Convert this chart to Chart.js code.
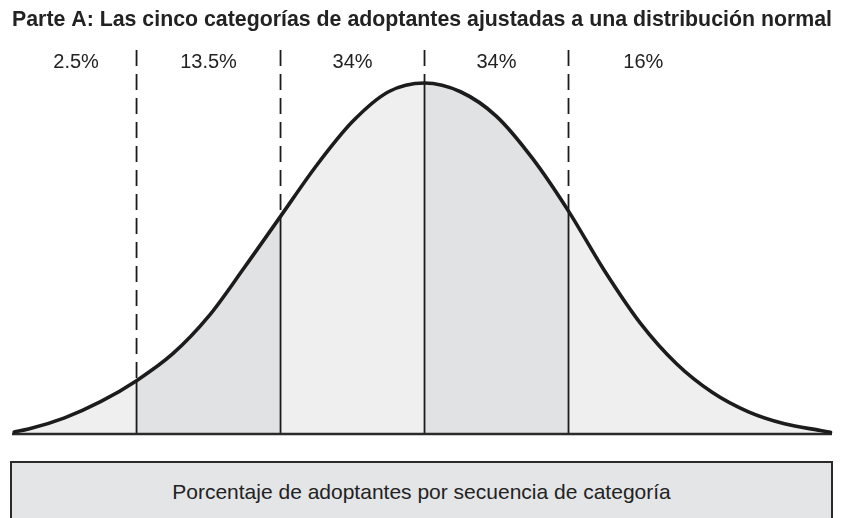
<!DOCTYPE html>
<html>
<head>
<meta charset="utf-8">
<script src="https://cdn.jsdelivr.net/npm/chart.js@4"></script>
<style>
body{margin:0;background:#fff}
#wrap{position:relative;width:841px;height:518px;overflow:hidden}
#box{position:absolute;left:10px;top:461px;width:819px;height:80px;background:#e4e5e7;border:2px solid #2a2a2a;
font:21px "Liberation Sans",Arial,sans-serif;color:#222;text-align:center;line-height:58px}
</style>
</head>
<body>
<div id="wrap">
<canvas id="chart" width="841" height="518"></canvas>
<div id="box">Porcentaje de adoptantes por secuencia de categoría</div>
</div>
<script>
// curve: x in std deviations, height as % of peak
var curveX=[-2.85,-2.75,-2.5,-2.25,-2,-1.75,-1.5,-1.25,-1,-0.75,-0.5,-0.25,0,0.25,0.5,0.75,1,1.25,1.5,1.75,2,2.25,2.5,2.75,2.82]
var curveY=[0.6,1.4,4.6,9.2,15.2,22.8,33.5,47.5,62,76.5,89,97.5,100,97.5,90.5,78.5,63.5,46.5,31.5,20,11.8,6.3,2.9,1.0,0.5]

// category boundaries (dashed lines) and region edges
var bounds=[-2,-1,0,1]
var edges=[-2.85,-2,-1,0,1,2.82]

// percentage labels over each category
var pctLabels=['2.5%','13.5%','34%','34%','16%']
var pctX=[-2.42,-1.5,-0.5,0.5,1.52]

var xMin=-2.865, xMax=2.83, yMax=109.4
var light='#efefef', dark='#e1e2e4', ink='#1c1c1c'

function heightAt(x){
  var i=curveX.indexOf(x)
  return curveY[i]
}

var datasets=[]

// shaded regions under the curve
for(var r=0;r<edges.length-1;r++){
  var pts=[]
  for(var i=0;i<curveX.length;i++){
    if(curveX[i]>=edges[r] && curveX[i]<=edges[r+1]) pts.push({x:curveX[i],y:curveY[i]})
  }
  datasets.push({data:pts,fill:'origin',backgroundColor:(r%2? dark:light),borderWidth:0,
    pointRadius:0,cubicInterpolationMode:'monotone',order:5})
}

// vertical lines: solid under the curve, dashed above
bounds.forEach(function(b){
  var h=heightAt(b)
  datasets.push({data:[{x:b,y:0},{x:b,y:h}],borderColor:ink,borderWidth:1.8,pointRadius:0,fill:false,order:3,clip:false})
  datasets.push({data:[{x:b,y:yMax},{x:b,y:h}],borderColor:ink,borderWidth:1.8,borderDash:[16,8],pointRadius:0,fill:false,order:3,clip:false})
})

// baseline
datasets.push({data:[{x:xMin,y:0},{x:xMax,y:0}],borderColor:'#2a2a2a',borderWidth:2.5,pointRadius:0,fill:false,order:2,clip:false})

// the curve itself
datasets.push({data:curveX.map(function(x,i){return {x:x,y:curveY[i]}}),borderColor:ink,borderWidth:3.6,
  pointRadius:0,fill:false,cubicInterpolationMode:'monotone',order:1,clip:false,borderCapStyle:'round'})

var pctPlugin={
  id:'pct',
  afterDatasetsDraw:function(chart){
    var ctx=chart.ctx, xs=chart.scales.x, top=chart.chartArea.top
    ctx.save()
    ctx.font='20px "Liberation Sans", Arial, sans-serif'
    ctx.fillStyle='#222'
    ctx.textAlign='center'
    ctx.textBaseline='middle'
    pctLabels.forEach(function(t,i){
      ctx.fillText(t,xs.getPixelForValue(pctX[i]),top+13)
    })
    ctx.restore()
  }
}

new Chart(document.getElementById('chart'),{
  type:'line',
  data:{datasets:datasets},
  options:{
    responsive:false,
    animation:false,
    events:[],
    layout:{padding:{left:12,right:9,top:0,bottom:84}},
    scales:{
      x:{type:'linear',display:false,min:xMin,max:xMax},
      y:{display:false,min:0,max:yMax}
    },
    plugins:{
      legend:{display:false},
      tooltip:{enabled:false},
      title:{display:true,text:'Parte A: Las cinco categorías de adoptantes ajustadas a una distribución normal',
        color:'#222',font:{family:'"Liberation Sans", Arial, sans-serif',size:21.4,weight:'bold'},
        padding:{top:7,bottom:17.3}}
    }
  },
  plugins:[pctPlugin]
})
</script>
</body>
</html>
